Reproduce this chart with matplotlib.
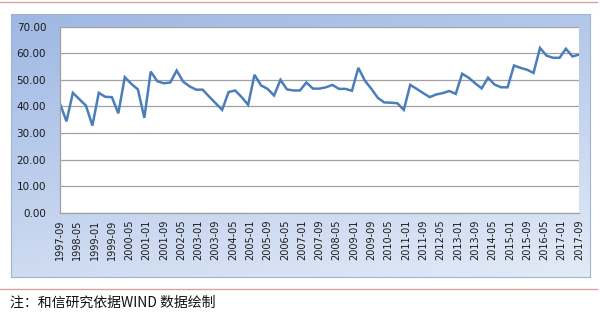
import numpy as np
import pandas as pd
import matplotlib
matplotlib.use("Agg")
import matplotlib.pyplot as plt
from matplotlib.lines import Line2D

# quarterly series, 1997-09 .. 2017-09
values = [
    41.0, 34.4, 45.1, 42.7, 40.3, 32.8, 45.1, 43.6, 43.5, 37.4,
    51.0, 48.5, 46.4, 35.7, 53.1, 49.5, 48.7, 49.0, 53.5, 49.3,
    47.5, 46.3, 46.3, 43.7, 41.2, 38.7, 45.4, 46.0, 43.5, 40.6,
    51.9, 47.9, 46.6, 44.1, 50.0, 46.4, 46.0, 46.0, 49.0, 46.7,
    46.7, 47.2, 48.1, 46.6, 46.6, 45.9, 54.5, 49.7, 46.6, 43.2,
    41.5, 41.4, 41.2, 38.7, 48.1, 46.6, 45.0, 43.5, 44.5, 45.0,
    45.8, 44.7, 52.3, 50.8, 48.7, 46.8, 50.8, 48.2, 47.2, 47.2,
    55.4, 54.5, 53.8, 52.6, 62.0, 59.1, 58.3, 58.3, 61.7, 58.8,
    59.5,
]
dates = pd.date_range("1997-09-01", periods=len(values), freq="3MS")
tick_dates = pd.date_range("1997-09-01", "2017-09-01", freq="8MS")
y_ticks = [0, 10, 20, 30, 40, 50, 60, 70]
note = "注：和信研究依据WIND 数据绘制"

fig = plt.figure(figsize=(6.0, 3.15), dpi=100)
W, H = 600, 315

# red rules above and below the chart
fig.add_artist(Line2D([0, 597 / W], [1 - 2 / H, 1 - 2 / H], color="#d8a3a3", lw=1.0))
fig.add_artist(Line2D([0, 597 / W], [1 - 289 / H, 1 - 289 / H], color="#d8a3a3", lw=1.0))

# blue gradient chart frame
bg = fig.add_axes([11 / W, 1 - 277 / H, 579 / W, 263 / H])
yy, xx = np.mgrid[0:1:200j, 0:1:200j]
t = np.clip(0.7 * yy + 0.3 * xx, 0, 1)
top = np.array([0.62, 0.72, 0.89])
bot = np.array([0.89, 0.92, 0.97])
grad = top[None, None, :] * (1 - t[..., None]) + bot[None, None, :] * t[..., None]
bg.imshow(grad, aspect="auto", extent=[0, 1, 0, 1], origin="upper")
bg.set_xticks([]); bg.set_yticks([])
for s in bg.spines.values():
    s.set_color("#9fb3d3"); s.set_linewidth(0.8)

ax = fig.add_axes([60 / W, 1 - 212.7 / H, 519 / W, 186 / H])
ax.set_facecolor("white")
ax.plot(dates, values, color="#4A7EBB", lw=1.8, solid_joinstyle="miter")

ax.set_xlim(dates[0], dates[-1])
ax.set_ylim(0, 70)
ax.set_yticks(y_ticks)
ax.set_yticklabels([f"{v:.2f}" for v in y_ticks], fontsize=7.5, color="#1a1a1a")
ax.set_xticks(tick_dates)
ax.set_xticklabels([d.strftime("%Y-%m") for d in tick_dates], rotation=90,
                   fontsize=7, color="#1a1a1a")
ax.tick_params(axis="both", length=0, pad=5)
ax.tick_params(axis="y", pad=10)
ax.grid(axis="y", color="#a0a0a0", lw=0.9)
ax.set_axisbelow(True)
for side in ("top", "right"):
    ax.spines[side].set_visible(False)
for side in ("left", "bottom"):
    ax.spines[side].set_color("#a0a0a0")
    ax.spines[side].set_linewidth(0.9)

fig.text(10 / W, 1 - 303 / H, note, fontsize=10, va="center", ha="left",
         family=["Noto Sans CJK SC", "DejaVu Sans"], color="#111111")

fig.savefig("out.png", dpi=100)
